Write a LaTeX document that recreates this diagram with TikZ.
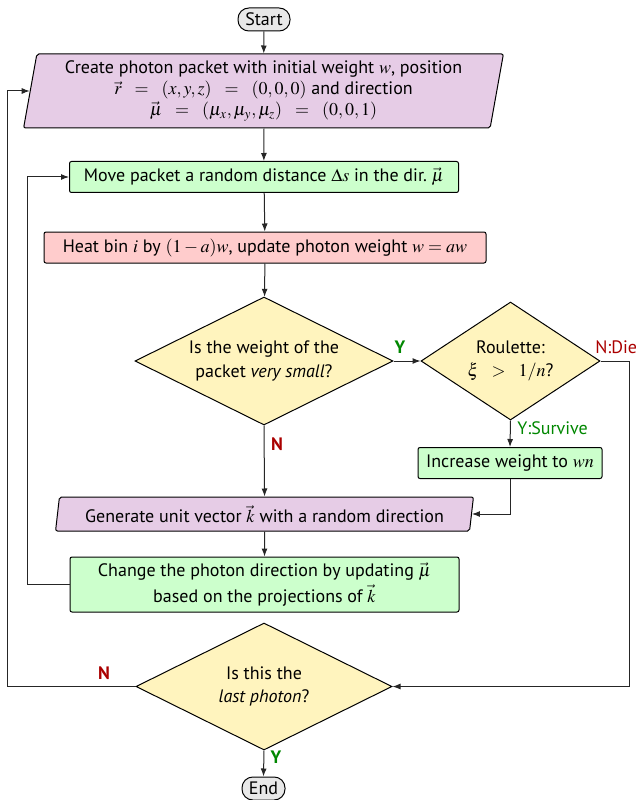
\documentclass[tikz,border=0pt]{standalone}
\usepackage{mathptmx}
\usepackage[no-math]{fontspec}
\setmainfont{PT Sans}
\usetikzlibrary{shapes.geometric,arrows.meta,calc}

\definecolor{procgreen}{RGB}{204,255,204}
\definecolor{procred}{RGB}{255,204,204}
\definecolor{iopurple}{RGB}{230,204,230}
\definecolor{decyellow}{RGB}{255,244,190}
\definecolor{termgray}{RGB}{232,232,232}
\definecolor{yesgreen}{RGB}{0,135,0}
\definecolor{nored}{RGB}{170,0,0}

\tikzset{
  base/.style={draw=black, line width=0.6pt, inner sep=0pt, align=center,
    font=\fontsize{10.8pt}{13pt}\selectfont},
  terminal/.style={base, fill=termgray, rounded corners=6.5pt, minimum height=13.8pt},
  process/.style={base, rounded corners=1.2pt, minimum height=18.6pt},
  iobox/.style={base, fill=iopurple, trapezium, trapezium left angle=79,
    trapezium right angle=101, trapezium stretches=true, rounded corners=1.2pt},
  decision/.style={base, fill=decyellow, diamond, shape aspect=2},
  arr/.style={draw=black!85, line width=0.6pt, -{Latex[length=4.8pt,width=3.6pt]}},
  yeslabel/.style={text=yesgreen, font=\fontsize{10.8pt}{13pt}\selectfont\bfseries, inner sep=0pt},
  nolabel/.style={text=nored, font=\fontsize{10.8pt}{13pt}\selectfont\bfseries, inner sep=0pt},
  branchtext/.style={inner sep=0pt, anchor=west, font=\fontsize{10.8pt}{13pt}\selectfont},
}

\begin{document}
\begin{tikzpicture}[x=0.6pt, y=-0.6pt]
\useasboundingbox (0,0) rectangle (636,800);

% terminals
\node[terminal, minimum width=31.2pt] (start) at (264,19.5) {Start};
\node[terminal, minimum width=25.8pt] (end) at (263.5,788.5) {End};

% initialisation
\node[iobox, minimum width=288.6pt, minimum height=44.4pt] (init) at (263.5,91)
  {Create photon packet with initial weight $w$, position\\[-0.5pt]
   $\vec r\enspace=\enspace(x,y,z)\enspace=\enspace(0,0,0)$ and direction\\[-0.5pt]
   $\vec \mu\enspace=\enspace(\mu_x,\mu_y,\mu_z)\enspace=\enspace(0,0,1)$};

% propagation and absorption
\node[process, fill=procgreen, minimum width=233.4pt] (move) at (264,177)
  {Move packet a random distance $\Delta s$ in the dir.\ $\vec\mu$};
\node[process, fill=procred, minimum width=265.2pt] (heat) at (265,247.5)
  {Heat bin $i$ by $(1-a)w$, update photon weight $w=aw$};

% weight test and roulette
\node[decision, minimum width=154.8pt, minimum height=76.8pt] (small) at (264,361)
  {Is the weight of the\\[1pt] packet \textit{very small}?};
\node[decision, minimum width=107.4pt, minimum height=70.8pt] (roul) at (510.5,361)
  {Roulette:\\[1pt] $\xi\enspace>\enspace1/n$?};
\node[process, fill=procgreen, minimum width=110.4pt] (inc) at (510,463)
  {Increase weight to $wn$};

% scattering
\node[iobox, minimum width=251.4pt, minimum height=20.4pt] (gen) at (264.5,514)
  {Generate unit vector $\vec k$ with a random direction};
\node[process, fill=procgreen, minimum width=233.4pt, minimum height=33pt] (chg) at (264.5,584.5)
  {Change the photon direction by updating $\vec\mu$\\[2.5pt] based on the projections of $\vec k$};

% photon loop test
\node[decision, minimum width=153.6pt, minimum height=76.2pt] (last) at (264,686.5)
  {Is this the\\[1pt] \textit{last photon}?};

% routing columns
\coordinate (outerx) at (7,0);
\coordinate (innerx) at (27,0);
\coordinate (rightx) at (629,0);

% main flow
\draw[arr] (start) -- (init);
\draw[arr] (init) -- (move);
\draw[arr] (move) -- (heat);
\draw[arr] (heat) -- (small);
\draw[arr] (small.east) -- (roul.west);
\draw[arr] (roul.south) -- (inc.north);
\draw[arr] (inc.south) -- (inc.south |- gen.east) -- (gen.east);
\draw[arr] (small.south) -- (gen.north);
\draw[arr] (gen) -- (chg);
\draw[arr] (last.south) -- (end.north);

% loops
\draw[arr] (chg.west) -- (chg.west -| innerx) -- (move.west -| innerx) -- (move.west);
\draw[arr] (roul.east) -- (roul.east -| rightx) -- (last.east -| rightx) -- (last.east);
\draw[arr] (last.west) -- (last.west -| outerx) -- (init.west -| outerx) -- (init.west);

% branch labels
\node[yeslabel] (ly1) at (400,347) {Y};
\node[nolabel] (ln1) at (277,444) {N};
\node[branchtext, text=nored] (ldie) at (595,347) {N:Die};
\node[branchtext, text=yesgreen] (lsurv) at (517,428) {Y:Survive};
\node[nolabel] (ln2) at (104,673) {N};
\node[yeslabel] (ly2) at (276,757) {Y};
\end{tikzpicture}
\end{document}
